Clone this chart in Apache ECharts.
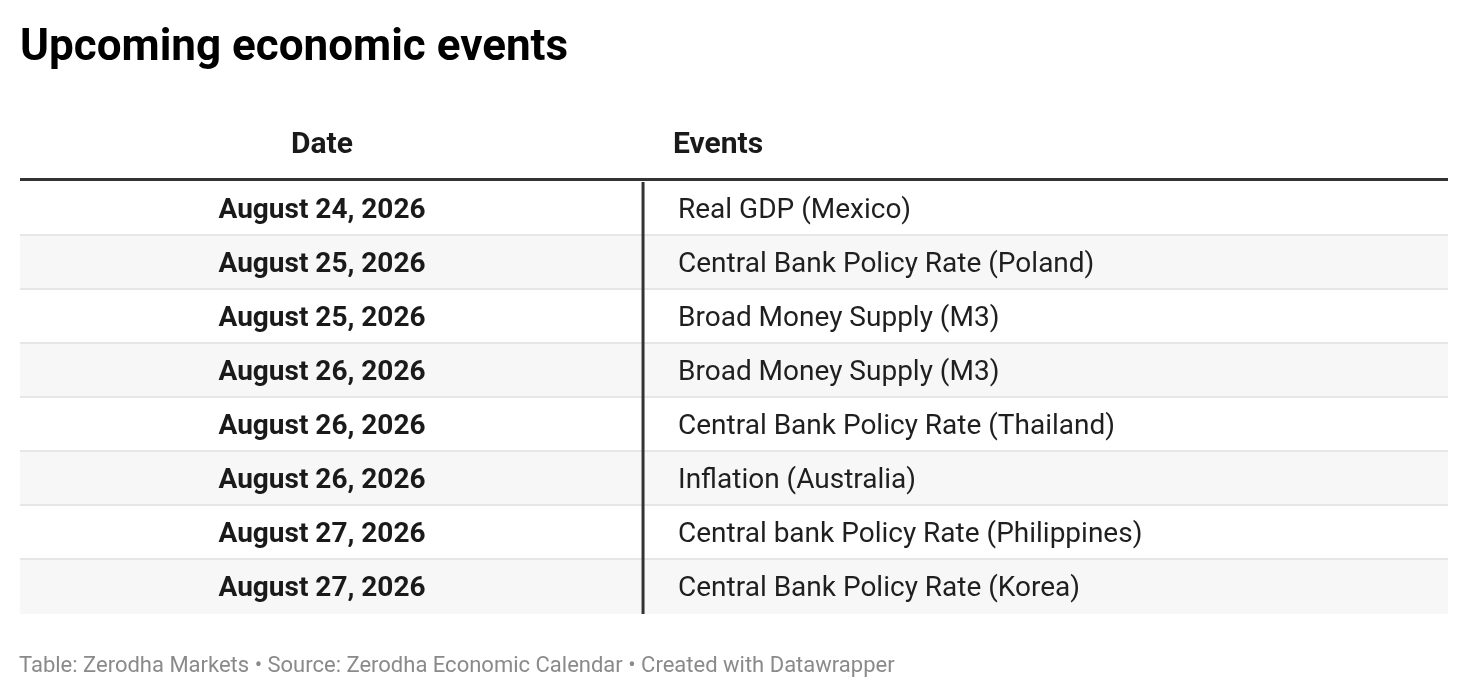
<!DOCTYPE html>
<html>
<head>
<meta charset="utf-8">
<script src="https://cdn.jsdelivr.net/npm/echarts@6/dist/echarts.min.js"></script>
<style>
  html, body { margin: 0; padding: 0; background: #fff; }
  #main { width: 1468px; height: 698px; }
</style>
</head>
<body>
<div id="main"></div>
<script>
// table contents
var columns = ['Date', 'Events'];
var dates = [
  'August 24, 2026',
  'August 25, 2026',
  'August 25, 2026',
  'August 26, 2026',
  'August 26, 2026',
  'August 26, 2026',
  'August 27, 2026',
  'August 27, 2026'
];
var events = [
  'Real GDP (Mexico)',
  'Central Bank Policy Rate (Poland)',
  'Broad Money Supply (M3)',
  'Broad Money Supply (M3)',
  'Central Bank Policy Rate (Thailand)',
  'Inflation (Australia)',
  'Central bank Policy Rate (Philippines)',
  'Central Bank Policy Rate (Korea)'
];

var rowIds = dates.map(function (d, i) { return i; });
var FONT = 'Roboto, "Noto Sans", sans-serif';

// column positions, as a share of the table width
var dateCenter = 0.2115;
var dividerAt = 0.4363;
var eventLeft = 0.4608;

var myChart = echarts.init(document.getElementById('main'));

function renderRow(params, api) {
  var i = api.value(1);
  var cs = params.coordSys;
  var mid = api.coord([0, i])[1];
  var h = api.size([1, 1])[1];
  var top = mid - h / 2;
  var kids = [];
  kids.push({
    type: 'rect',
    shape: { x: cs.x, y: top, width: cs.width, height: h },
    style: { fill: i % 2 === 1 ? '#f7f7f7' : '#ffffff' }
  });
  if (i < dates.length - 1) {
    kids.push({
      type: 'rect',
      shape: { x: cs.x, y: top + h - 2, width: cs.width, height: 2 },
      style: { fill: '#e6e6e6' }
    });
  }
  var dx = api.coord([dividerAt, i])[0];
  kids.push({
    type: 'rect',
    shape: { x: dx - 1.5, y: top, width: 3, height: h },
    style: { fill: '#333333' }
  });
  kids.push({
    type: 'text',
    style: {
      text: dates[i],
      x: api.coord([dateCenter, i])[0],
      y: mid + 2,
      fill: '#1a1a1a',
      font: 'bold 28px ' + FONT,
      align: 'center', verticalAlign: 'middle',
      textAlign: 'center', textVerticalAlign: 'middle'
    }
  });
  kids.push({
    type: 'text',
    style: {
      text: events[i],
      x: api.coord([eventLeft, i])[0],
      y: mid + 2,
      fill: '#1f1f1f',
      font: '28px ' + FONT,
      align: 'left', verticalAlign: 'middle',
      textAlign: 'left', textVerticalAlign: 'middle'
    }
  });
  return { type: 'group', children: kids };
}

option = {
  backgroundColor: '#ffffff',
  animation: false,
  title: [
    {
      text: 'Upcoming economic events',
      left: 15,
      top: 22,
      textStyle: { fontFamily: FONT, fontSize: 44, fontWeight: 'bold', color: '#000000' }
    },
    {
      text: 'Table: Zerodha Markets • Source: Zerodha Economic Calendar • Created with Datawrapper',
      left: 14,
      top: 650,
      textStyle: { fontFamily: FONT, fontSize: 22, fontWeight: 'normal', color: '#8a8a8a' }
    }
  ],
  grid: { left: 20, right: 20, top: 182, height: 432 },
  xAxis: { type: 'value', min: 0, max: 1, show: false },
  yAxis: { type: 'category', data: rowIds, inverse: true, show: false },
  graphic: [
    {
      type: 'text',
      x: 322, y: 145,
      style: {
        text: columns[0], fill: '#1a1a1a', font: 'bold 30px ' + FONT,
        align: 'center', verticalAlign: 'middle',
        textAlign: 'center', textVerticalAlign: 'middle'
      }
    },
    {
      type: 'text',
      x: 673, y: 145,
      style: {
        text: columns[1], fill: '#1a1a1a', font: 'bold 30px ' + FONT,
        align: 'left', verticalAlign: 'middle',
        textAlign: 'left', textVerticalAlign: 'middle'
      }
    },
    {
      type: 'rect',
      shape: { x: 20, y: 178, width: 1428, height: 3 },
      style: { fill: '#333333' }
    }
  ],
  series: [
    {
      type: 'custom',
      renderItem: renderRow,
      encode: { x: 0, y: 1 },
      data: rowIds.map(function (i) { return [0.5, i]; })
    }
  ]
};

myChart.setOption(option);
</script>
</body>
</html>
